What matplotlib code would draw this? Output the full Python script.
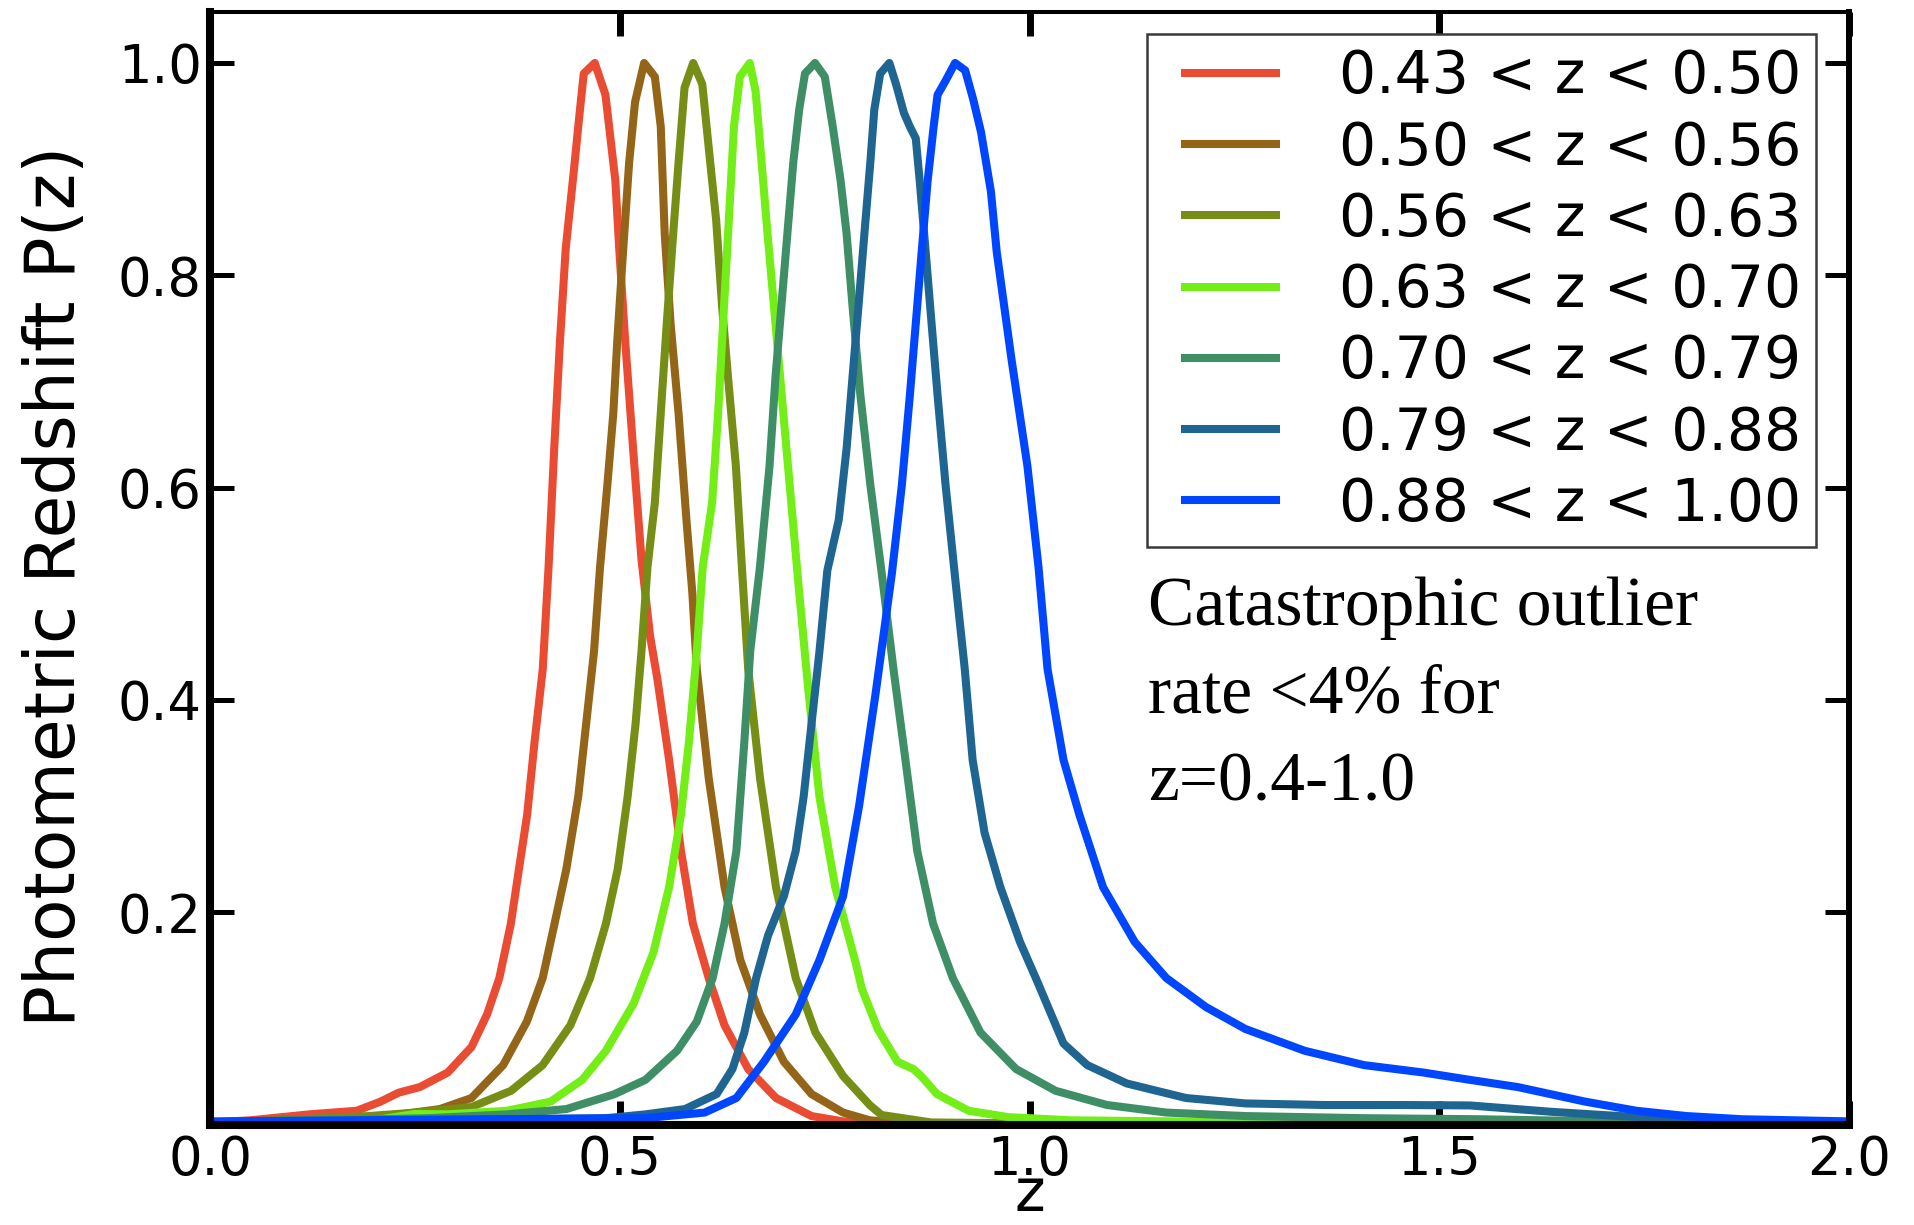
import matplotlib
matplotlib.use("Agg")
import matplotlib.pyplot as plt
from matplotlib.lines import Line2D
from matplotlib.legend_handler import HandlerLine2D

# Redshift bins and line colours
labels = ["0.43 < z < 0.50", "0.50 < z < 0.56", "0.56 < z < 0.63",
          "0.63 < z < 0.70", "0.70 < z < 0.79", "0.79 < z < 0.88",
          "0.88 < z < 1.00"]
colors = ["#EA4B33", "#946518", "#768E16", "#73EE17", "#3F8F66", "#1F6592", "#0046FF"]

# Normalised photometric-redshift distributions P(z), one per bin
z_043 = [0.0, 0.049, 0.121, 0.179, 0.208, 0.230, 0.256, 0.290, 0.319, 0.338, 0.353,
         0.367, 0.377, 0.387, 0.396, 0.406, 0.413, 0.420, 0.427, 0.434, 0.444, 0.451,
         0.456, 0.4695, 0.4825, 0.4946, 0.4993, 0.5066, 0.5162, 0.5265, 0.5370, 0.5458,
         0.5602, 0.5747, 0.5892, 0.6085, 0.6278, 0.6567, 0.6907, 0.734, 0.772, 0.85,
         1.0, 2.0]
p_043 = [0.002, 0.004, 0.0096, 0.013, 0.0216, 0.030, 0.0353, 0.049, 0.073, 0.1037, 0.138,
         0.189, 0.241, 0.292, 0.3605, 0.429, 0.524, 0.637, 0.738, 0.825, 0.899, 0.953,
         0.990, 1.0, 0.970, 0.889, 0.825, 0.738, 0.637, 0.532, 0.46, 0.42,
         0.3434, 0.2578, 0.1893, 0.138, 0.0935, 0.0523, 0.025, 0.008, 0.003, 0.001,
         0.0005, 0.0003]

z_050 = [0.0, 0.15, 0.2322, 0.2804, 0.319, 0.3577, 0.3866, 0.4059, 0.4204, 0.4348, 0.4493,
         0.459, 0.4686, 0.4759, 0.4849, 0.4921, 0.4969, 0.5042, 0.5114, 0.5186, 0.5297,
         0.5428, 0.550, 0.5548, 0.562, 0.5717, 0.5813, 0.5886, 0.594, 0.6085, 0.6278,
         0.6471, 0.6711, 0.7002, 0.734, 0.7725, 0.805, 0.85, 1.0, 2.0]
p_050 = [0.001, 0.003, 0.0096, 0.0146, 0.025, 0.056, 0.097, 0.138, 0.1893, 0.2407, 0.309,
         0.3777, 0.446, 0.525, 0.603, 0.670, 0.738, 0.825, 0.906, 0.963, 1.0,
         0.987, 0.940, 0.839, 0.7545, 0.670, 0.57, 0.50, 0.429, 0.3264, 0.2237,
         0.155, 0.1037, 0.0592, 0.0287, 0.0113, 0.004, 0.0015, 0.0005, 0.0003]

z_056 = [0.0, 0.1935, 0.2514, 0.319, 0.3673, 0.4059, 0.4397, 0.4638, 0.4831, 0.4975, 0.5096,
         0.5193, 0.5265, 0.5338, 0.5428, 0.550, 0.5573, 0.5645, 0.5717, 0.579, 0.5896,
         0.6007, 0.6104, 0.6176, 0.6248, 0.6321, 0.6417, 0.649, 0.6567, 0.6711, 0.6906,
         0.7147, 0.7388, 0.7725, 0.805, 0.8195, 0.88, 1.0, 2.0]
p_056 = [0.001, 0.008, 0.0113, 0.0165, 0.0318, 0.056, 0.0935, 0.138, 0.1893, 0.2407, 0.309,
         0.3777, 0.446, 0.525, 0.586, 0.670, 0.7545, 0.832, 0.906, 0.9766, 1.0,
         0.980, 0.906, 0.852, 0.771, 0.704, 0.620, 0.525, 0.429, 0.3264, 0.2237,
         0.138, 0.0866, 0.0457, 0.0184, 0.009, 0.002, 0.001, 0.0003]

z_063 = [0.0, 0.20, 0.25, 0.290, 0.3624, 0.4155, 0.4541, 0.4831, 0.5169, 0.541, 0.5602,
         0.5747, 0.5844, 0.594, 0.6012, 0.6127, 0.620, 0.6272, 0.6345, 0.6393, 0.6465,
         0.6586, 0.6658, 0.6731, 0.6803, 0.690, 0.6996, 0.7092, 0.7185, 0.7300, 0.7436,
         0.7629, 0.787, 0.7955, 0.8148, 0.8388, 0.8582, 0.8678, 0.8871, 0.9257, 0.974,
         1.05, 1.3, 2.0]
p_063 = [0.001, 0.004, 0.010, 0.0096, 0.013, 0.0216, 0.0421, 0.0695, 0.114, 0.162, 0.2237,
         0.292, 0.3605, 0.446, 0.525, 0.586, 0.670, 0.771, 0.872, 0.940, 0.987,
         1.0, 0.973, 0.906, 0.839, 0.7545, 0.670, 0.586, 0.505, 0.41, 0.309,
         0.2237, 0.155, 0.1277, 0.090, 0.0592, 0.0523, 0.0457, 0.0287, 0.013, 0.007,
         0.004, 0.002, 0.0005]

z_070 = [0.0, 0.2659, 0.3624, 0.4348, 0.4927, 0.5313, 0.5699, 0.594, 0.6133, 0.6278, 0.6423,
         0.652, 0.6592, 0.671, 0.6827, 0.690, 0.6972, 0.7045, 0.7117, 0.7189, 0.726,
         0.7382, 0.7502, 0.7599, 0.7695, 0.7768, 0.784, 0.7936, 0.8057, 0.8202, 0.834,
         0.8486, 0.863, 0.8823, 0.9064, 0.9402, 0.9836, 1.0318, 1.0946, 1.167, 1.2635,
         1.408, 1.55, 1.70, 2.0]
p_070 = [0.002, 0.006, 0.0096, 0.0146, 0.0284, 0.0421, 0.0695, 0.097, 0.138, 0.1893, 0.2578,
         0.3605, 0.446, 0.525, 0.620, 0.704, 0.771, 0.839, 0.906, 0.956, 0.990,
         1.0, 0.987, 0.940, 0.889, 0.839, 0.771, 0.687, 0.603, 0.516, 0.429,
         0.3434, 0.2578, 0.1893, 0.138, 0.0866, 0.0523, 0.0318, 0.0184, 0.0113, 0.008,
         0.006, 0.005, 0.003, 0.001]

z_079 = [0.0, 0.4831, 0.5313, 0.5796, 0.6182, 0.6375, 0.652, 0.6664, 0.6809, 0.7002, 0.7147,
         0.7244, 0.734, 0.7437, 0.7533, 0.7672, 0.7768, 0.784, 0.7913, 0.7985, 0.8057,
         0.8106, 0.8178, 0.829, 0.8371, 0.8467, 0.854, 0.8612, 0.866, 0.8733, 0.8805,
         0.8878, 0.8975, 0.9095, 0.921, 0.9306, 0.9451, 0.9644, 0.9884, 1.0077, 1.0415,
         1.0705, 1.1187, 1.191, 1.2635, 1.36, 1.4565, 1.5375, 1.637, 1.72, 1.80, 2.0]
p_079 = [0.002, 0.006, 0.0096, 0.0146, 0.0287, 0.0523, 0.0866, 0.138, 0.178, 0.215, 0.2578,
         0.309, 0.3777, 0.446, 0.522, 0.5695, 0.637, 0.704, 0.771, 0.839, 0.906,
         0.956, 0.990, 1.0, 0.980, 0.953, 0.940, 0.929, 0.889, 0.822, 0.7545,
         0.687, 0.603, 0.513, 0.429, 0.3434, 0.275, 0.2237, 0.172, 0.138, 0.0763,
         0.056, 0.0387, 0.025, 0.0199, 0.0184, 0.0184, 0.018, 0.012, 0.008, 0.005, 0.002]

z_088 = [0.0, 0.5313, 0.6036, 0.6423, 0.676, 0.7147, 0.7437, 0.7725, 0.792, 0.812, 0.8322,
         0.8443, 0.854, 0.8612, 0.8684, 0.8757, 0.883, 0.8878, 0.8974, 0.9092, 0.9215,
         0.9312, 0.9408, 0.9529, 0.960, 0.978, 0.9975, 1.011, 1.022, 1.0415, 1.0608,
         1.0897, 1.1284, 1.167, 1.2153, 1.2635, 1.3358, 1.4082, 1.4806, 1.5375, 1.596,
         1.678, 1.7406, 1.802, 1.87, 2.0]
p_088 = [0.003, 0.006, 0.0113, 0.025, 0.0592, 0.1037, 0.155, 0.215, 0.30, 0.405, 0.52,
         0.603, 0.687, 0.7545, 0.822, 0.889, 0.940, 0.970, 0.983, 1.0, 0.993,
         0.966, 0.935, 0.879, 0.822, 0.721, 0.620, 0.525, 0.429, 0.3434, 0.292,
         0.2237, 0.172, 0.138, 0.1107, 0.090, 0.0695, 0.056, 0.049, 0.0421, 0.0353,
         0.0216, 0.013, 0.008, 0.005, 0.003]

z_curves = [z_043, z_050, z_056, z_063, z_070, z_079, z_088]
p_curves = [p_043, p_050, p_056, p_063, p_070, p_079, p_088]

x_ticks = [0.0, 0.5, 1.0, 1.5, 2.0]
y_ticks = [0.2, 0.4, 0.6, 0.8, 1.0]


class InsetLineHandler(HandlerLine2D):
    """Legend line that starts a little to the right of its handle box."""

    def get_xdata(self, legend, xdescent, ydescent, width, height, fontsize):
        xdata, xmarker = super().get_xdata(legend, xdescent, ydescent,
                                           width, height, fontsize)
        inset = 0.40 * fontsize
        return [xdata[0] + inset, xdata[-1]], xmarker


plt.rcParams["font.family"] = ["DejaVu Sans"]

fig = plt.figure(figsize=(19.15, 12.25), dpi=100)
ax = fig.add_axes([0.1097, 0.0820, 0.8558, 0.9082])

for z, p, c, lab in zip(z_curves, p_curves, colors, labels):
    ax.plot(z, p, color=c, lw=5.8, label=lab)

ax.set_xlim(0, 2.0)
ax.set_ylim(0, 1.048)
ax.set_xticks(x_ticks)
ax.set_xticklabels([f"{t:.1f}" for t in x_ticks])
ax.set_yticks(y_ticks)
ax.set_yticklabels([f"{t:.1f}" for t in y_ticks])

ax.tick_params(axis="both", direction="in", top=True, right=True,
               length=17, labelsize=38, color="black")
ax.tick_params(axis="x", width=5, pad=7)
ax.tick_params(axis="y", width=3.6, pad=6)

for side, w in (("left", 5.8), ("bottom", 5.8), ("right", 4.3), ("top", 2.9)):
    ax.spines[side].set_linewidth(w)
    ax.spines[side].set_color("black")

ax.set_ylabel("Photometric Redshift P(z)", fontsize=50)
ax.yaxis.label.set_va("center")
ax.yaxis.set_label_coords(-0.0946, 0.484)

ax.set_xlabel("z", fontsize=42)
ax.xaxis.label.set_va("baseline")
ax.xaxis.set_label_coords(0.5, -0.0778)

leg = ax.legend(loc="upper right", bbox_to_anchor=(0.98, 0.9804),
                bbox_transform=ax.transAxes, borderaxespad=0, fontsize=42,
                handlelength=1.97, handletextpad=1.08, borderpad=0.25,
                labelspacing=0.244, fancybox=False, framealpha=1,
                edgecolor="#3a3a3a",
                handler_map={Line2D: InsetLineHandler()})
leg.get_frame().set_linewidth(1.8)
for line in leg.get_lines():
    line.set_linewidth(5.8)

ax.text(1.1446, 0.3057, "Catastrophic outlier\nrate <4% for\nz=0.4-1.0",
        family="Liberation Serif", fontsize=50, va="baseline", ha="left",
        linespacing=1.49, color="black")

fig.savefig("out.png", dpi=100, facecolor="white")
